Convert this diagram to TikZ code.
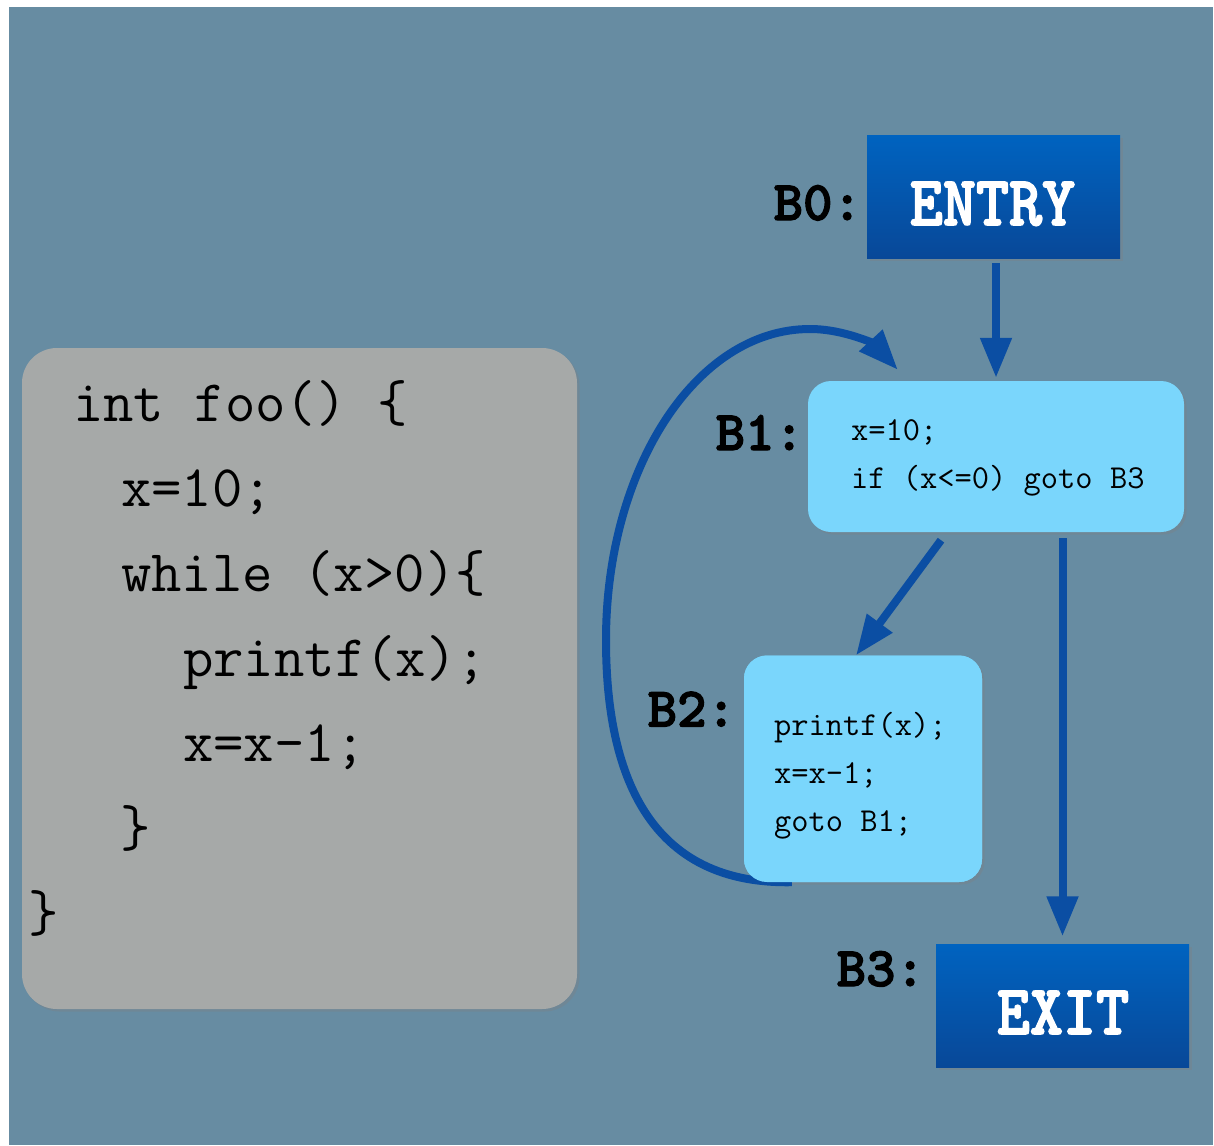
\documentclass[tikz,border=0pt]{standalone}
\usepackage{fontspec}
\newfontfamily\heavytt{lmmonolt10-bold.otf}[FakeBold=2.2]
\usetikzlibrary{arrows.meta,shadows,calc}
\definecolor{bgslate}{HTML}{678CA2}
\definecolor{codegray}{HTML}{A6A9A8}
\definecolor{lightblue}{HTML}{7AD6FC}
\definecolor{darktop}{HTML}{0063C0}
\definecolor{darkbot}{HTML}{084898}
\definecolor{arrowblue}{HTML}{0B4EA3}
\begin{document}
\begin{tikzpicture}[x=1pt,y=-1pt,
  softshadow/.style={drop shadow={shadow xshift=2.5pt,shadow yshift=-2.5pt,opacity=0.35}},
  codebox/.style={fill=codegray,rounded corners=35pt,inner sep=0pt,softshadow},
  cfgbox/.style={fill=lightblue,rounded corners=23pt,inner sep=0pt,softshadow},
  termbox/.style={top color=darktop,bottom color=darkbot,inner sep=0pt,softshadow},
  flow/.style={draw=arrowblue,line width=8pt,-{Triangle[length=40pt,width=30pt]}},
  codetxt/.style={anchor=base west,inner sep=0pt,font=\fontsize{59}{70}\selectfont\ttfamily},
  blocktxt/.style={anchor=base west,inner sep=0pt,font=\fontsize{33.5}{40}\selectfont\ttfamily},
  lbl/.style={anchor=base west,inner sep=0pt,font=\fontsize{56}{66}\selectfont\heavytt},
  termtxt/.style={anchor=base,inner sep=0pt,text=white,font=\fontsize{63}{72}\selectfont\heavytt}
]
\useasboundingbox (0,0) rectangle (1214,1145);
\fill[white] (0,0) rectangle (1214,1145);
\fill[bgslate] (9,7) rectangle (1213,1145);

% code box
\node[codebox,minimum width=555pt,minimum height=661pt] (code) at (299.5,678.5) {};
\node[codetxt] (c1) at (73,421.5) {int foo() \{};
\node[codetxt] (c2) at (121,506) {x=10;};
\node[codetxt] (c3) at (121,591) {while (x>0)\{};
\node[codetxt] (c4) at (183,676) {printf(x);};
\node[codetxt] (c5) at (183,761) {x=x-1;};
\node[codetxt] (c6) at (120,846) {\}};
\node[codetxt] (c7) at (28,931) {\}};

% basic blocks
\node[cfgbox,minimum width=238pt,minimum height=226.5pt] (B2) at (863,768.75) {};
\node[cfgbox,minimum width=376pt,minimum height=151pt] (B1) at (996,456.5) {};
\coordinate (loopstart) at ($(B2.south west)+(48,0)$);
\coordinate (looptip) at ($(B1.north west)+(90,-11)$);
% loop back edge B2 -> B1
\draw[flow] (loopstart) .. controls (640,885) and (606,760) .. (606,640)
  .. controls (606,470) and (695,329) .. (810,329)
  .. controls (845,329) and (875,345) .. (looptip);
% B2 again on top of the curve end
\node[fill=lightblue,rounded corners=23pt,inner sep=0pt,minimum width=238pt,minimum height=226.5pt] (B2top) at (B2) {};

\node[termbox,minimum width=253pt,minimum height=123pt] (ENTRY) at (993.5,196.5) {};
\node[termbox,minimum width=253pt,minimum height=123pt] (EXIT) at (1062.5,1005.5) {};

\node[termtxt] (entrytxt) at (992.5,225) {\scalebox{1}[1.12]{ENTRY}};
\node[termtxt] (exittxt) at (1063,1034) {\scalebox{1}[1.12]{EXIT}};

\node[blocktxt] (b1a) at (851,440) {x=10;};
\node[blocktxt] (b1b) at (851,488) {if (x<=0) goto B3};
\node[blocktxt] (b2a) at (774,735) {printf(x);};
\node[blocktxt] (b2b) at (774,783) {x=x-1;};
\node[blocktxt] (b2c) at (774,831) {goto B1;};

\node[lbl] (L0) at (773.5,220) {B0:};
\node[lbl] (L1) at (715.5,450) {B1:};
\node[lbl] (L2) at (647.5,726.5) {B2:};
\node[lbl] (L3) at (836.5,986) {B3:};

% connectors
\draw[flow] ($(ENTRY.south)+(2.5,5)$) -- ($(B1.north)+(0,-3)$);
\draw[flow] ($(B1.south)+(-55,8)$) -- ($(B2.north)+(-7,0)$);
\draw[flow] ($(B1.south)+(66.5,6)$) -- ($(EXIT.north)+(0,-7.5)$);
\end{tikzpicture}
\end{document}
